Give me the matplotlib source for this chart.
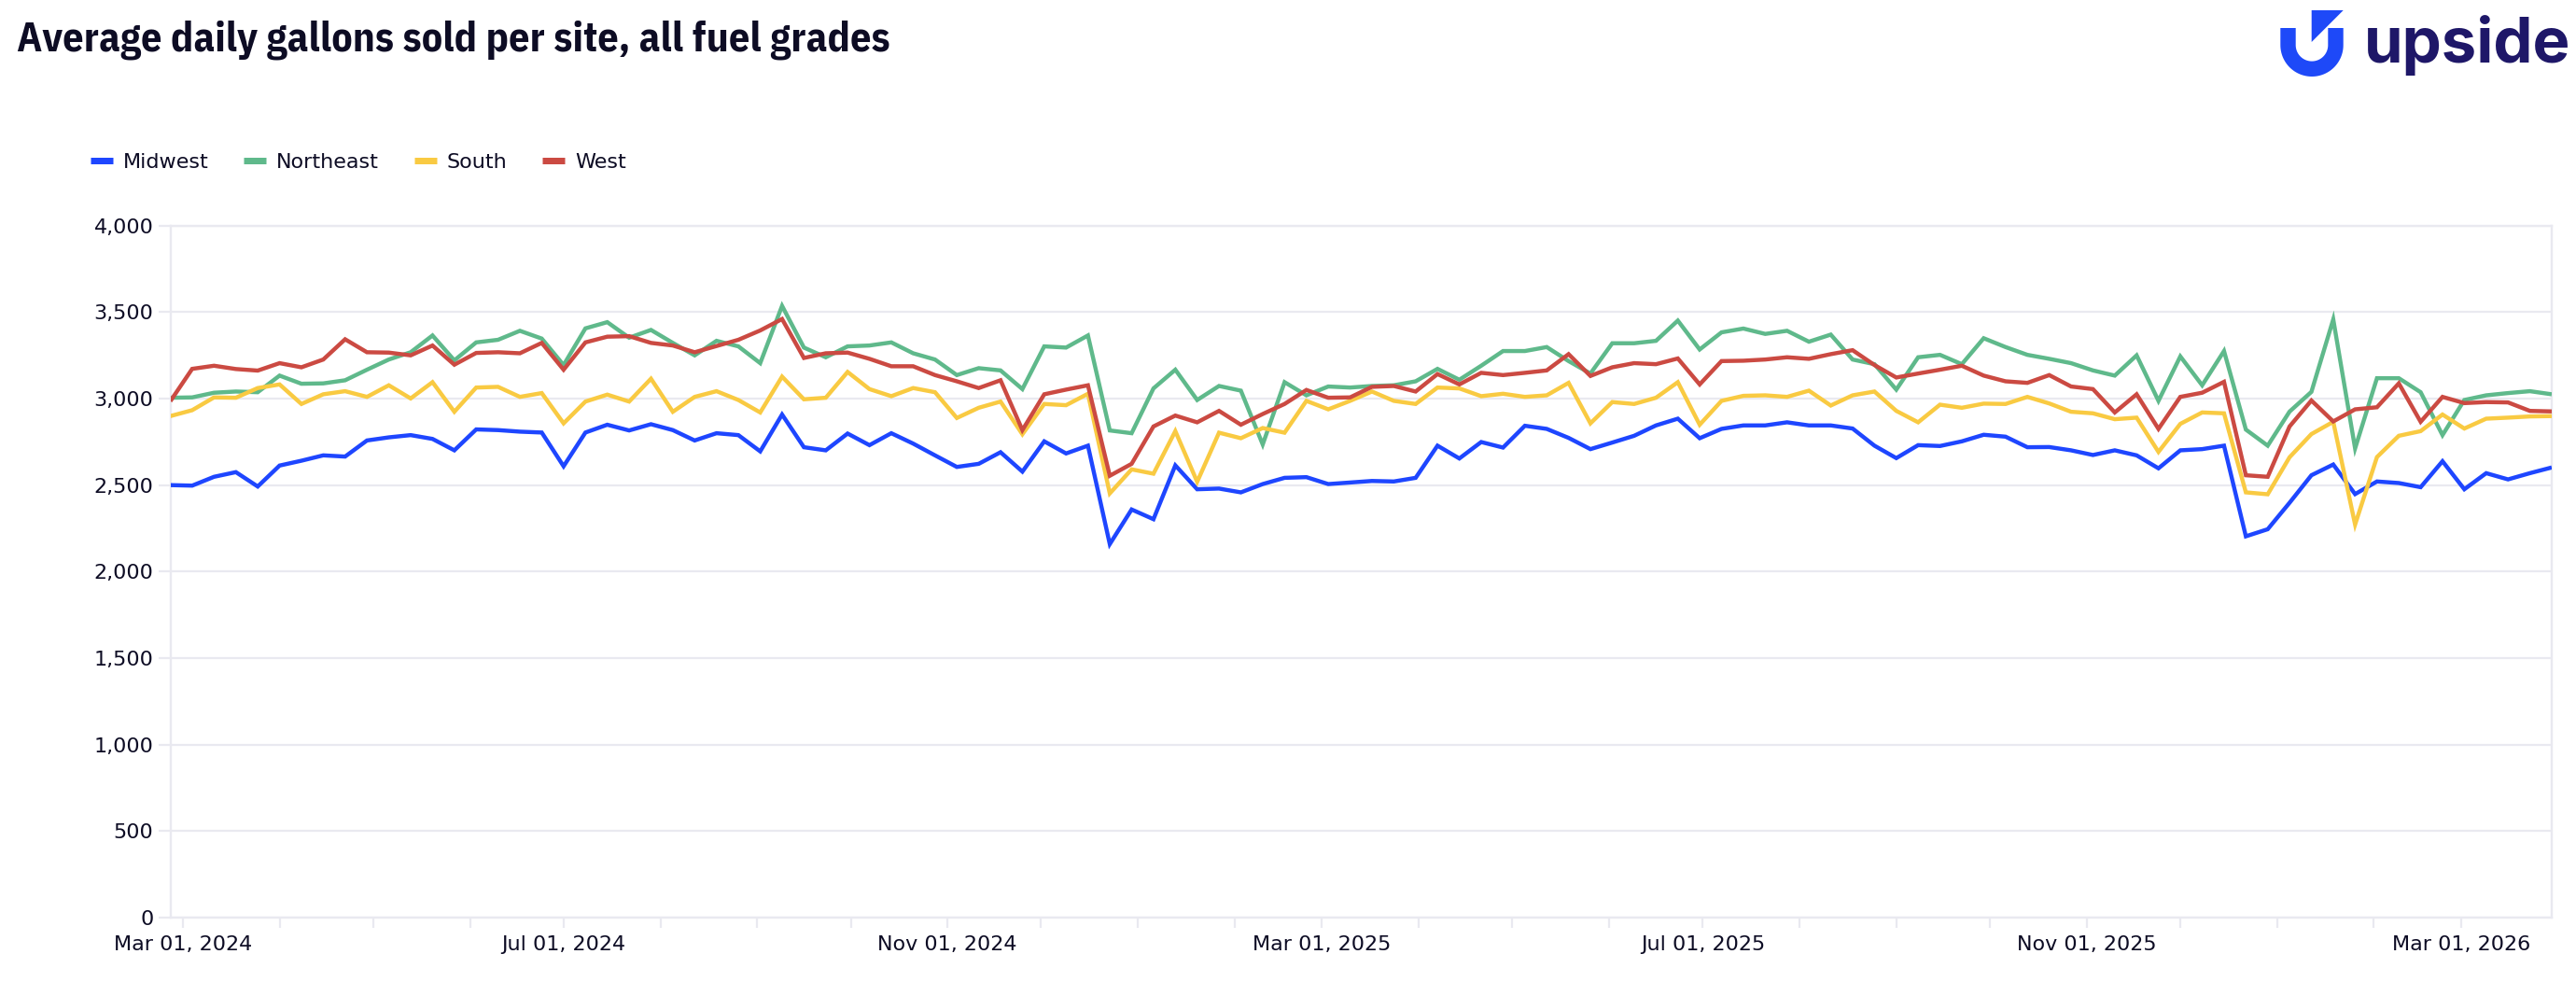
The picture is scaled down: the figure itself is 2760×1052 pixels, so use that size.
import os
import numpy as np
import pandas as pd
import matplotlib
matplotlib.use("Agg")
import matplotlib.pyplot as plt
import matplotlib.dates as mdates
from matplotlib import font_manager as fm
from matplotlib.textpath import TextPath
from matplotlib.patches import Polygon
from matplotlib.lines import Line2D
from matplotlib.ticker import FuncFormatter

# ---------------- data ----------------
start_date = "2024-02-26"
n_weeks = 110

midwest = [2500, 2497, 2548, 2575, 2492, 2613, 2641, 2672, 2665, 2758,
           2776, 2789, 2767, 2701, 2822, 2818, 2809, 2804, 2609, 2804,
           2849, 2816, 2852, 2818, 2758, 2800, 2789, 2695, 2908, 2719,
           2701, 2798, 2731, 2800, 2740, 2672, 2605, 2623, 2690, 2578,
           2753, 2683, 2728, 2159, 2359, 2303, 2614, 2476, 2480, 2458,
           2506, 2542, 2546, 2506, 2515, 2524, 2521, 2542, 2728, 2654,
           2749, 2717, 2843, 2825, 2773, 2708, 2746, 2785, 2845, 2884,
           2771, 2825, 2845, 2845, 2863, 2845, 2845, 2827, 2728, 2656,
           2731, 2726, 2753, 2791, 2780, 2719, 2720, 2701, 2674, 2701,
           2672, 2597, 2701, 2708, 2728, 2204, 2245, 2398, 2557, 2619,
           2448, 2521, 2512, 2488, 2638, 2476, 2569, 2533, 2569, 2602]

northeast = [3005, 3007, 3034, 3041, 3037, 3133, 3086, 3088, 3106, 3167,
             3226, 3268, 3365, 3221, 3325, 3340, 3392, 3347, 3194, 3406,
             3442, 3352, 3397, 3322, 3250, 3334, 3302, 3205, 3536, 3295,
             3239, 3302, 3307, 3325, 3262, 3226, 3136, 3176, 3163, 3055,
             3302, 3295, 3365, 2816, 2800, 3059, 3167, 2992, 3073, 3046,
             2735, 3095, 3019, 3070, 3064, 3073, 3077, 3100, 3172, 3109,
             3190, 3275, 3275, 3298, 3217, 3145, 3320, 3320, 3334, 3451,
             3284, 3383, 3405, 3374, 3392, 3329, 3370, 3226, 3199, 3052,
             3239, 3253, 3199, 3349, 3298, 3253, 3230, 3205, 3163, 3133,
             3250, 2987, 3244, 3077, 3275, 2821, 2728, 2925, 3039, 3458,
             2712, 3118, 3118, 3037, 2789, 2992, 3019, 3032, 3043, 3025]

south = [2899, 2933, 3007, 3005, 3061, 3082, 2969, 3025, 3043, 3010,
         3077, 3001, 3095, 2924, 3064, 3068, 3010, 3032, 2857, 2983,
         3023, 2983, 3115, 2924, 3010, 3043, 2992, 2920, 3127, 2996,
         3005, 3154, 3055, 3014, 3061, 3037, 2888, 2947, 2983, 2794,
         2969, 2962, 3028, 2452, 2591, 2566, 2812, 2519, 2803, 2771,
         2830, 2803, 2987, 2938, 2987, 3041, 2987, 2969, 3064, 3059,
         3014, 3028, 3010, 3019, 3091, 2857, 2980, 2969, 3005, 3095,
         2849, 2987, 3016, 3019, 3010, 3046, 2960, 3019, 3041, 2929,
         2863, 2965, 2947, 2971, 2969, 3010, 2972, 2924, 2915, 2881,
         2890, 2692, 2854, 2920, 2915, 2458, 2447, 2661, 2795, 2866,
         2272, 2662, 2785, 2812, 2908, 2827, 2884, 2890, 2897, 2899]

west = [2985, 3172, 3190, 3171, 3162, 3205, 3181, 3226, 3343, 3268,
        3266, 3250, 3307, 3196, 3264, 3268, 3262, 3322, 3167, 3325,
        3358, 3361, 3322, 3307, 3268, 3304, 3340, 3394, 3460, 3235,
        3262, 3266, 3230, 3187, 3187, 3136, 3100, 3061, 3106, 2818,
        3025, 3052, 3077, 2554, 2623, 2839, 2902, 2863, 2929, 2849,
        2911, 2969, 3050, 3005, 3007, 3068, 3073, 3041, 3142, 3082,
        3149, 3136, 3149, 3163, 3257, 3131, 3181, 3205, 3199, 3232,
        3082, 3217, 3219, 3226, 3239, 3230, 3257, 3280, 3194, 3122,
        3145, 3167, 3190, 3133, 3100, 3091, 3136, 3070, 3055, 2920,
        3025, 2825, 3010, 3034, 3097, 2557, 2548, 2839, 2989, 2868,
        2938, 2950, 3088, 2866, 3010, 2974, 2980, 2978, 2929, 2926]

series_names = ["Midwest", "Northeast", "South", "West"]
series_colors = ["#1E46FF", "#5FB98B", "#F9CA42", "#CB4A42"]
y_ticks = [0, 500, 1000, 1500, 2000, 2500, 3000, 3500, 4000]
title_text = "Average daily gallons sold per site, all fuel grades"

dates = pd.date_range(start_date, periods=n_weeks, freq="7D")
values = [midwest, northeast, south, west]

# ---------------- fonts ----------------
def _w(f):
    w = f.weight
    try:
        return int(w)
    except Exception:
        return {"bold": 700, "heavy": 800, "black": 900, "semibold": 600,
                "demibold": 600, "extra bold": 800, "ultrabold": 800,
                "normal": 400, "regular": 400, "book": 400}.get(str(w).lower(), 400)


def find_static(names, weight):
    for pref in names:
        hits = []
        for f in fm.fontManager.ttflist:
            base = os.path.basename(f.fname)
            low = base.lower()
            if f.name != pref or "[" in base or "italic" in low or "oblique" in low:
                continue
            hits.append((abs(_w(f) - weight), f.fname))
        if hits:
            hits.sort()
            if hits[0][0] <= 100:
                return hits[0][1]
    return None


PX = 72.0 / 100  # points per pixel at 100 dpi

body_file = find_static(["IBM Plex Sans"], 400)
if body_file:
    body_fp = fm.FontProperties(fname=body_file)
    wref = TextPath((0, 0), "Mar 01, 2024", size=100, prop=body_fp).get_extents().width
    body_px = 100 * 148.0 / wref
else:
    body_fp = fm.FontProperties(family="DejaVu Sans")
    body_px = 16 / PX
body_pt = body_px * PX
body_fp.set_size(body_pt)

# ---------------- figure ----------------
W, H = 2760, 1052
DPI = 100
fig = plt.figure(figsize=(W / DPI, H / DPI), dpi=DPI)
fig.patch.set_facecolor("white")

TXT = "#0D0C24"
GRID = "#E9E9F0"

ax_l, ax_r, ax_t, ax_b = 182.5, 2734.0, 241.7, 983.0
ax = fig.add_axes([ax_l / W, 1 - ax_b / H, (ax_r - ax_l) / W, (ax_b - ax_t) / H])

for vals, name, col in zip(values, series_names, series_colors):
    ax.plot(dates, vals, color=col, lw=4.4 * PX, solid_joinstyle="miter",
            solid_capstyle="butt", label=name, zorder=3)

ax.set_xlim(dates[0], dates[-1])
ax.set_ylim(0, 4000)
ax.set_yticks(y_ticks)
ax.yaxis.set_major_formatter(FuncFormatter(lambda v, p: f"{int(v):,}"))
ax.yaxis.grid(True, color=GRID, lw=2.2 * PX, zorder=0)
ax.set_axisbelow(True)

ax.xaxis.set_major_locator(mdates.MonthLocator(bymonth=[3, 7, 11]))
ax.xaxis.set_minor_locator(mdates.MonthLocator())
ax.xaxis.set_major_formatter(mdates.DateFormatter("%b %d, %Y"))

for s in ["left", "right", "bottom", "top"]:
    ax.spines[s].set_color(GRID)
    ax.spines[s].set_linewidth(2.4 * PX)

ax.tick_params(axis="y", length=13 * PX, width=2.2 * PX, color=GRID,
               pad=5 * PX, labelcolor=TXT)
ax.tick_params(axis="x", which="both", length=11 * PX, width=2.2 * PX,
               color=GRID, pad=8 * PX, labelcolor=TXT)
for lab in ax.get_xticklabels() + ax.get_yticklabels():
    lab.set_fontproperties(body_fp)

# ---------------- legend ----------------
handles = [Line2D([0], [0], color=c, lw=7 * PX, solid_capstyle="butt")
           for c in series_colors]
fig.legend(handles, series_names, loc="center left",
           bbox_to_anchor=(97 / W, 1 - 174 / H), ncol=4, frameon=False,
           prop=body_fp, labelcolor=TXT, handlelength=24.0 / body_px,
           handletextpad=11.0 / body_px, columnspacing=37.5 / body_px,
           borderpad=0, borderaxespad=0)

# ---------------- title (condensed bold) ----------------
prefs = ["IBM Plex Sans Condensed", "Encode Sans Condensed", "Barlow Condensed",
         "Archivo Narrow", "Liberation Sans Narrow", "PT Sans Narrow",
         "Fira Sans Condensed", "Asap Condensed", "Roboto Condensed"]
title_file = find_static(prefs, 700)
if title_file:
    title_fp = fm.FontProperties(fname=title_file)
else:
    title_fp = fm.FontProperties(family="DejaVu Sans", weight="bold")

wid = TextPath((0, 0), title_text, size=100, prop=title_fp).get_extents().width
title_fp.set_size(100 * 932.0 / wid * PX)
fig.text(18 / W, 1 - 55 / H, title_text, fontproperties=title_fp, color=TXT,
         ha="left", va="baseline")

# ---------------- logo ----------------
ov = fig.add_axes([0, 0, 1, 1], zorder=5)
ov.set_xlim(0, W)
ov.set_ylim(H, 0)
ov.axis("off")
ov.patch.set_alpha(0)

BLUE = "#1E49F8"
NAVY = "#1E1768"
cx, cy, R, r = 2477.0, 48.3, 33.7, 17.3
t_out = np.linspace(np.pi, 0, 80)
t_in = np.linspace(0, np.pi, 80)
pts = [(cx - R, 30.0)]
pts += list(zip(cx + R * np.cos(t_out), cy + R * np.sin(t_out)))
pts += [(cx + R, 30.0), (cx + r, 30.0)]
pts += list(zip(cx + r * np.cos(t_in), cy + r * np.sin(t_in)))
pts += [(cx - r, 30.0)]
ov.add_patch(Polygon(pts, closed=True, facecolor=BLUE, edgecolor="none"))
ov.add_patch(Polygon([(2476.7, 11), (2510.7, 11), (2476.7, 45)], closed=True,
                     facecolor=BLUE, edgecolor="none"))

logo_fp = fm.FontProperties(family=["Inter", "DejaVu Sans"], weight="bold")
lw_ = TextPath((0, 0), "upside", size=100, prop=logo_fp).get_extents().width
logo_fp.set_size(100 * 215.0 / lw_ * PX)
fig.text(2533 / W, 1 - 66.7 / H, "upside", fontproperties=logo_fp, color=NAVY,
         ha="left", va="baseline")

fig.savefig("out.png", dpi=DPI, facecolor="white")
